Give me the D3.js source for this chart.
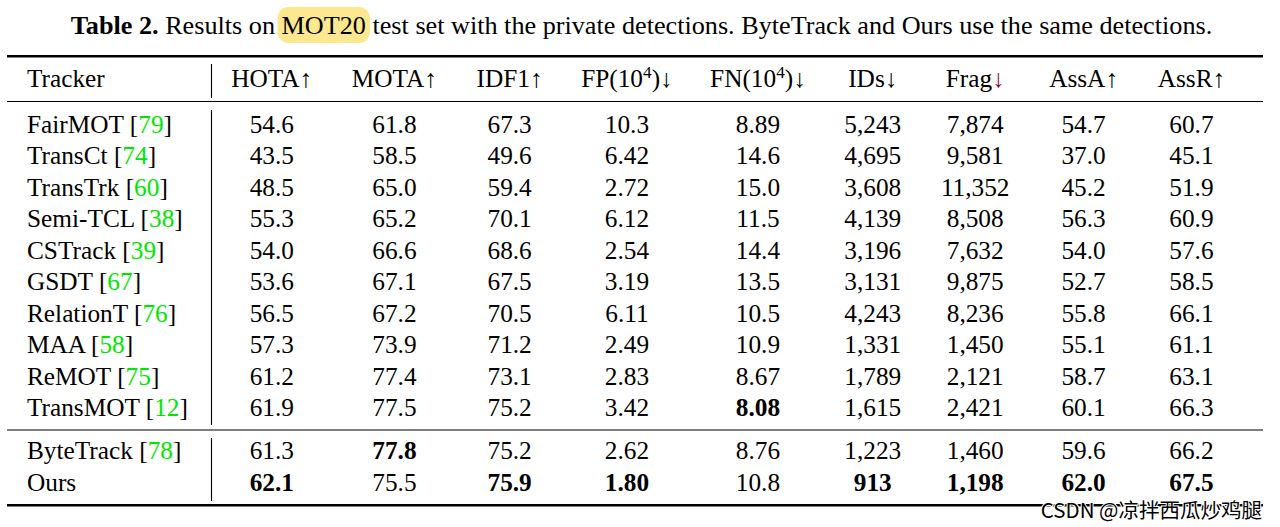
<!DOCTYPE html>
<html><head><meta charset="utf-8">
<script src="https://cdn.jsdelivr.net/npm/d3@7"></script>
<style>
html,body{margin:0;padding:0;background:#fff;}
svg{display:block;}
text{font-family:"Liberation Serif","Times New Roman",serif;fill:#000;}
</style></head>
<body><svg id="c" width="1280" height="527"></svg>
<script>
// ---------- data ----------
const trackers = ["FairMOT","TransCt","TransTrk","Semi-TCL","CSTrack","GSDT","RelationT","MAA","ReMOT","TransMOT","ByteTrack","Ours"];
const cites    = ["79","74","60","38","39","67","76","58","75","12","78",""];
const hota = [54.6,43.5,48.5,55.3,54.0,53.6,56.5,57.3,61.2,61.9,61.3,62.1];
const mota = [61.8,58.5,65.0,65.2,66.6,67.1,67.2,73.9,77.4,77.5,77.8,75.5];
const idf1 = [67.3,49.6,59.4,70.1,68.6,67.5,70.5,71.2,73.1,75.2,75.2,75.9];
const fp   = [10.3,6.42,2.72,6.12,2.54,3.19,6.11,2.49,2.83,3.42,2.62,1.80];
const fn   = [8.89,14.6,15.0,11.5,14.4,13.5,10.5,10.9,8.67,8.08,8.76,10.8];
const ids  = [5243,4695,3608,4139,3196,3131,4243,1331,1789,1615,1223,913];
const frag = [7874,9581,11352,8508,7632,9875,8236,1450,2121,2421,1460,1198];
const assa = [54.7,37.0,45.2,56.3,54.0,52.7,55.8,55.1,58.7,60.1,59.6,62.0];
const assr = [60.7,45.1,51.9,60.9,57.6,58.5,66.1,61.1,63.1,66.3,66.2,67.5];
const headerNames = ["HOTA","MOTA","IDF1","FP","FN","IDs","Frag","AssA","AssR"];
const headerSup   = ["","","","4","4","","","",""];
const headerDir   = ["up","up","up","down","down","down","down","up","up"];
const formats     = [".1f",".1f",".1f",".3r",".3r",",",",",".1f",".1f"];
const titleParts  = ["Table 2.", " Results on ", "MOT20", " test set with the private detections. ByteTrack and Ours use the same detections."];
const watermark   = "CSDN @凉拌西瓜炒鸡腿";

const columns = [hota,mota,idf1,fp,fn,ids,frag,assa,assr];

// ---------- layout ----------
const svg = d3.select("#c");
const FS = 25.3;
const left = 7, right = 1263, firstX = 27, vlineX = 211.5, lastColEnd = 1245;
const topRule = 56.3, headRule = 101.5, midRule = 430, botRule = 505.3;
const headBase = 87;
const yUpper = d3.scaleLinear().domain([0,9]).range([133,416]);
const yLower = d3.scaleLinear().domain([10,11]).range([459,491]);
const yRow = i => i < 10 ? yUpper(i) : yLower(i);

// ---------- title ----------
const title = svg.append("text").attr("y",33.5).attr("font-size",26.2);
title.append("tspan").attr("font-weight","bold").text(titleParts[0]);
title.append("tspan").text(titleParts[1]);
title.append("tspan").text(titleParts[2]);
title.append("tspan").text(titleParts[3]);
const tw = title.node().getComputedTextLength();
title.attr("x", 641.5 - tw/2);
// highlight box
const ttext = title.node();
const pre = titleParts[0].length + titleParts[1].length;
const sx = ttext.getStartPositionOfChar(pre).x;
const ex = ttext.getEndPositionOfChar(pre + titleParts[2].length - 1).x;
svg.insert("rect","text").attr("x",sx-4).attr("y",7).attr("width",ex-sx+8).attr("height",36)
  .attr("rx",11).attr("fill","#fde88f");

// ---------- measure columns ----------
const meas = svg.append("text").attr("font-size",FS).attr("opacity",0);
function width(str, bold){ meas.attr("font-weight", bold?"bold":"normal").text(str); return meas.node().getComputedTextLength(); }
const cellStr = columns.map((col,j)=>col.map(v=>d3.format(formats[j])(v)));
const best = columns.map((col,j)=> headerDir[j]==="up" ? d3.max(col) : d3.min(col));
const widths = columns.map((col,j)=>{
  const hw = width(headerNames[j] + (headerSup[j] ? "(10 )" : "") + "↑") ;
  return Math.max(hw, d3.max(cellStr[j], (s,i)=>width(s, col[i]===best[j])));
});
meas.remove();
const gap = (lastColEnd - vlineX - d3.sum(widths)) / widths.length;
let acc = vlineX;
const centers = widths.map(w=>{ const c = acc + gap/2 + w/2; acc += w + gap; return c; });
const xCol = d3.scaleOrdinal().domain(headerNames).range(centers);

// ---------- rules ----------
const rule = (y,sw)=>svg.append("line").attr("x1",left).attr("x2",right).attr("y1",y).attr("y2",y).attr("stroke","#000").attr("stroke-width",sw);
rule(topRule,2.6); rule(headRule,1.1); rule(midRule,1.1); rule(botRule,2.6);
const vline = (y1,y2)=>svg.append("line").attr("x1",vlineX).attr("x2",vlineX).attr("y1",y1).attr("y2",y2).attr("stroke","#000").attr("stroke-width",1.1);
vline(64,98); vline(110,425); vline(438,501);

// ---------- header ----------
svg.append("text").attr("x",firstX).attr("y",headBase).attr("font-size",FS).text("Tracker");
headerNames.forEach((h,j)=>{
  const t = svg.append("text").attr("x",xCol(h)).attr("y",headBase).attr("font-size",FS).attr("text-anchor","middle");
  t.append("tspan").text(h);
  if (headerSup[j]) {
    t.append("tspan").text("(10");
    t.append("tspan").attr("font-size",FS*0.68).attr("dy",-9).text(headerSup[j]);
    t.append("tspan").attr("dy",9).text(")");
  }
  t.append("tspan").attr("fill", h==="Frag" ? "#8a0b2e" : "#000").text(headerDir[j]==="up" ? "↑" : "↓");
});

// ---------- rows ----------
trackers.forEach((name,i)=>{
  const t = svg.append("text").attr("x",firstX).attr("y",yRow(i)).attr("font-size",FS);
  t.append("tspan").text(name);
  if (cites[i]) {
    t.append("tspan").text(" [");
    t.append("tspan").attr("fill","#00e600").text(cites[i]);
    t.append("tspan").text("]");
  }
  columns.forEach((col,j)=>{
    svg.append("text").attr("x",xCol(headerNames[j])).attr("y",yRow(i)).attr("font-size",FS)
      .attr("text-anchor","middle").attr("font-weight", col[i]===best[j] ? "bold" : "normal")
      .text(cellStr[j][i]);
  });
});

// ---------- watermark ----------
svg.append("text").attr("x",1262).attr("y",518).attr("text-anchor","end")
  .attr("font-size",20.5).style("font-family","'Noto Sans CJK SC','Noto Sans',sans-serif")
  .attr("fill","#9a9a9a").attr("stroke","#fff").attr("stroke-width",2).attr("paint-order","stroke")
  .text(watermark);
</script></body></html>
